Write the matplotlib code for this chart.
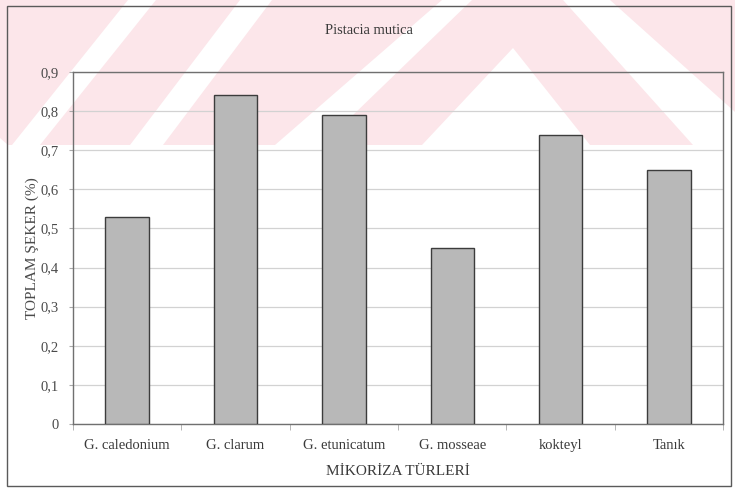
# Toplam seker grafigi - Pistacia mutica
import matplotlib
matplotlib.use('Agg')
import matplotlib.pyplot as plt
from matplotlib.patches import Polygon, Rectangle
import numpy as np


turler = ['G. caledonium', 'G. clarum', 'G. etunicatum', 'G. mosseae', 'kokteyl', 'Tanık']
seker = [0.53, 0.84, 0.79, 0.45, 0.74, 0.65]
y_ticks = [0, 0.1, 0.2, 0.3, 0.4, 0.5, 0.6, 0.7, 0.8, 0.9]
y_etiket = ['0', '0,1', '0,2', '0,3', '0,4', '0,5', '0,6', '0,7', '0,8', '0,9']

W, H = 735, 492
PEMBE = '#fce6ea'
YAZI = '#3a3a3a'


def filigran(bg):
    # pink band with white diagonal gaps across the top of the page
    bg.add_patch(Rectangle((0, 0), W, 145, color=PEMBE, lw=0))
    bosluklar = [
        [(0, 145), (8, 145), (0, 138)],
        [(12, 145), (40, 145), (156, 0), (128, 0)],
        [(130, 145), (163, 145), (272, 0), (240, 0)],
        [(275, 145), (322, 145), (472, 0), (442, 0)],
        [(422, 145), (513, 48), (590, 145)],
        [(563, 0), (610, 0), (735, 112), (735, 145), (693, 145)],
    ]
    for p in bosluklar:
        bg.add_patch(Polygon(p, closed=True, color='white', lw=0))
    # page frame
    bg.add_patch(Rectangle((7, 6), 724, 480, fill=False, ec='#5a5a5a', lw=1.0))


def grafik(ax):
    x = np.arange(len(turler))
    ax.bar(x, seker, width=0.4, color='#b8b8b8', edgecolor='#3c3c3c',
           linewidth=1.0, zorder=3)
    ax.set_xlim(-0.5, len(turler) - 0.5)
    ax.set_ylim(0, 0.9)
    ax.set_yticks(y_ticks)
    ax.set_yticklabels(y_etiket)
    ax.set_xticks(x)
    ax.set_xticklabels(turler)
    ax.set_xticks(np.arange(len(turler) + 1) - 0.5, minor=True)
    ax.tick_params(axis='x', which='major', length=0, pad=11, labelsize=10.5,
                   labelcolor=YAZI)
    ax.tick_params(axis='x', which='minor', length=4, color='#aaaaaa')
    ax.tick_params(axis='y', length=3, color='#aaaaaa', pad=7, labelsize=10.5,
                   labelcolor='#4a4a4a')
    ax.yaxis.grid(True, color='#d2d2d2', lw=0.9, zorder=0)
    for s in ax.spines.values():
        s.set_color('#707070')
        s.set_linewidth(1.0)
    ax.set_facecolor('none')
    ax.set_xlabel('MİKORİZA TÜRLERİ', fontsize=11, color=YAZI, labelpad=9)
    ax.set_ylabel('TOPLAM ŞEKER (%)', fontsize=11, color='#4a4a4a', labelpad=1)


if __name__ == '__main__':
    plt.rcParams['font.family'] = ['Liberation Serif', 'DejaVu Serif']
    fig = plt.figure(figsize=(W / 100, H / 100), dpi=100)
    fig.patch.set_facecolor('white')

    bg = fig.add_axes([0, 0, 1, 1], zorder=0)
    bg.set_xlim(0, W)
    bg.set_ylim(H, 0)
    bg.axis('off')
    filigran(bg)

    ax = fig.add_axes([73 / W, 1 - 424 / H, 650 / W, 352 / H], zorder=1)
    grafik(ax)
    fig.text(369 / W, 1 - 31 / H, 'Pistacia mutica', ha='center', va='center',
             fontsize=10.5, color=YAZI)

    fig.savefig('out.png', dpi=100)
